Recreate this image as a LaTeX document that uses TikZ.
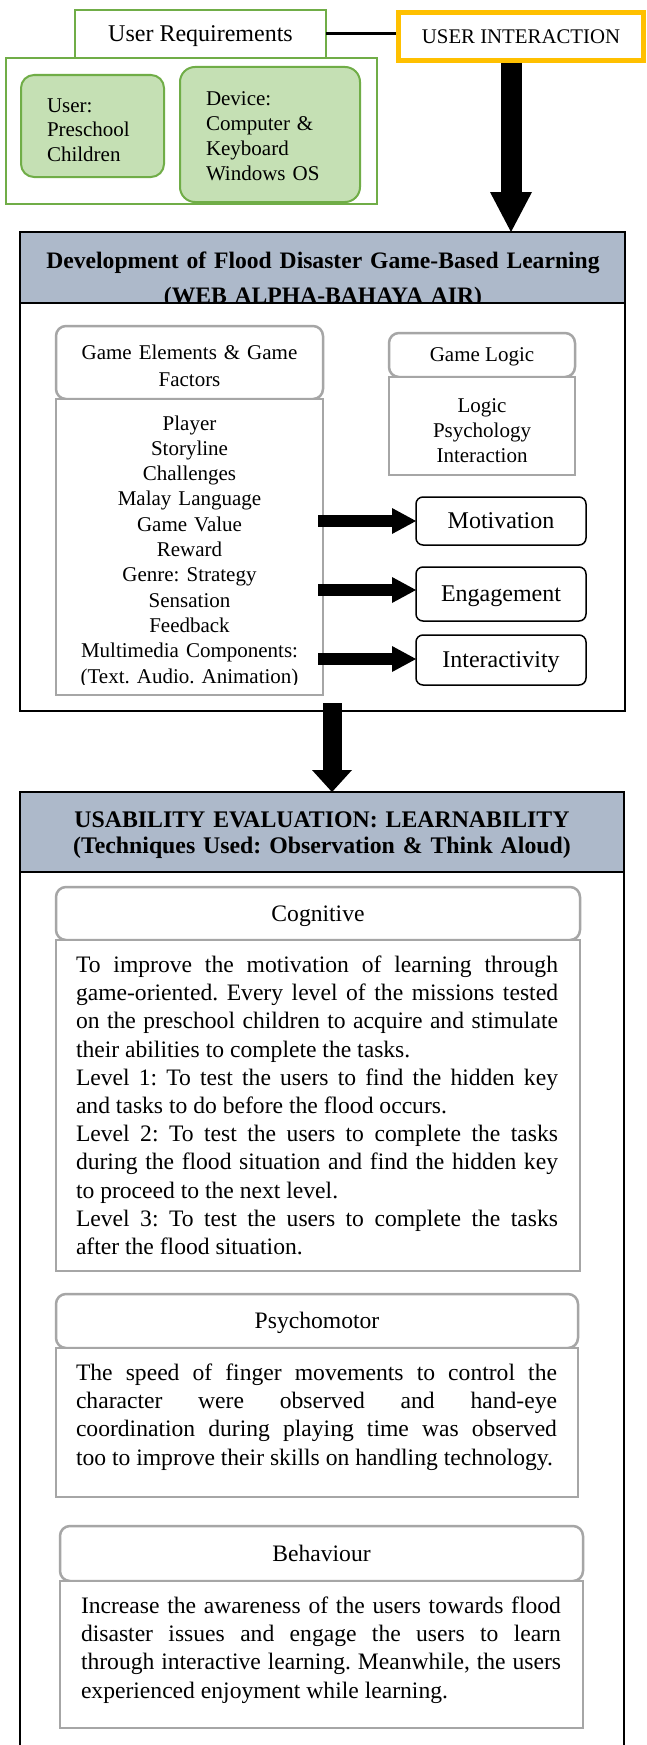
\documentclass[tikz,border=0pt]{standalone}
\usepackage{fontspec}
\setmainfont{Liberation Serif}
\usetikzlibrary{arrows.meta,calc}
\frenchspacing

\definecolor{leafline}{HTML}{70AD47}
\definecolor{leaffill}{HTML}{C5E0B4}
\definecolor{amber}{HTML}{FFC000}
\definecolor{slateband}{HTML}{ADB9CA}
\definecolor{greyline}{HTML}{A6A6A6}

\newcommand{\pxfont}[2]{\fontsize{#1}{#2}\selectfont}

\begin{document}
\begin{tikzpicture}[x=1pt,y=-1pt,
  every node/.style={inner sep=0pt,outer sep=0pt},
  % a box given by its left, top, right and bottom edges
  span/.style args={#1:#2:#3:#4}{at={($(#1,#2)!0.5!(#3,#4)$)},minimum width={#3-#1},minimum height={#4-#2}},
  % centre a single line on its capitals
  capmid/.style={text height=#1,text depth=0pt},
  greenframe/.style={draw=leafline,line width=2pt,fill=white},
  greenpill/.style={draw=leafline,line width=2pt,fill=leaffill,rounded corners=13pt},
  amberframe/.style={draw=amber,line width=5pt,fill=white},
  blackframe/.style={draw=black,line width=2pt,fill=white},
  bandbox/.style={draw=black,line width=2pt,fill=slateband},
  greyhead/.style={draw=greyline,line width=2.5pt,fill=white,rounded corners=10pt},
  greybody/.style={draw=greyline,line width=2.5pt,fill=white},
  outcome/.style={draw=black,line width=1.5pt,fill=white,rounded corners=7pt,font={\pxfont{24}{28}},capmid=15.8pt},
  bigarrow/.style={line width=21pt,-{Triangle[width=42pt,length=40pt,line width=0pt]}},
  midarrow/.style={line width=19pt,-{Triangle[width=40pt,length=22pt,line width=0pt]}},
  sidearrow/.style={line width=12pt,-{Triangle[width=26pt,length=24pt,line width=0pt]}},
  headtext/.style={font={\pxfont{23.6}{28}},capmid=15.6pt},
  smalltext/.style={font={\pxfont{21}{25}}},
  bodytext/.style={font={\pxfont{23.6}{28.2}\hyphenpenalty10000 \tolerance10000 },align=justify,anchor=base west},
]
\useasboundingbox (0,0) rectangle (646,1745);
\fill[white] (0,0) rectangle (646,1745);

% ---------- user requirements ----------
\node[greenframe, span=6:58:377:204] (reqgroup) {};
\node[greenframe, span=75:10:326:58, font={\pxfont{24}{28}}, capmid=15.8pt] (ureq) {User Requirements};
\node[greenpill, span=21:75:164:177] (uuser) {};
\node[anchor=base west, text width=110pt, align=left, font={\pxfont{21}{24.5}}] (uusertxt) at (47,112.5)
  {User:\\Preschool\\Children};
\node[greenpill, rounded corners=15pt, span=180:67:360:202] (udevice) {};
\node[anchor=base west, text width=140pt, align=left, font={\pxfont{21}{25}}] (udevicetxt) at (206,105)
  {Device:\\Computer \&\\Keyboard\\Windows OS};

% ---------- user interaction ----------
\node[amberframe, span=398.5:12.5:643.5:60.5, font={\pxfont{20.8}{25}}, capmid=13.7pt] (uinter) {USER INTERACTION};
\draw[line width=3pt] (ureq.east) -- ($(ureq.east -| uinter.west)+(-2.5,0)$);

% ---------- development block ----------
\node[blackframe, span=20:232:625:711] (dev) {};
\node[bandbox, span=20:232:625:303] (devhead) {};
\begin{scope}
  \clip (devhead.north west) rectangle ([yshift=1pt]devhead.south east);
  \node[anchor=base, text width=600pt, align=center, font={\bfseries\pxfont{23.6}{35}}] (devtitle) at (323,268)
    {Development of Flood Disaster Game-Based Learning\\(WEB ALPHA-BAHAYA AIR)};
\end{scope}

\node[greyhead, span=56:326:323:399] (gehead) {};
\node[anchor=base, text width=260pt, align=center, font={\pxfont{21}{27}}] (geheadtxt) at (189.5,359.5)
  {Game Elements \& Game\\Factors};
\node[greybody, span=56:399:323:695] (gebody) {};
\begin{scope}
  \clip (56,399) rectangle (323,684);
  \node[anchor=base, text width=260pt, align=center, font={\pxfont{21}{25.3}}] (gelist) at (189.5,430)
    {Player\\Storyline\\Challenges\\Malay Language\\Game Value\\Reward\\Genre: Strategy\\Sensation\\Feedback\\Multimedia Components:\\(Text. Audio. Animation)};
\end{scope}

\node[greyhead, span=389:333:575:377] (glhead) {};
\node[anchor=base, smalltext] (glheadtxt) at (482,361) {Game Logic};
\node[greybody, span=389:377:575:475] (glbody) {};
\node[anchor=base, text width=180pt, align=center, smalltext] (gllist) at (482,412)
  {Logic\\Psychology\\Interaction};

\node[outcome, span=416:497:586:545] (motiv) {Motivation};
\node[outcome, span=416:567:586:621] (engage) {Engagement};
\node[outcome, span=416:635:586:685] (interact) {Interactivity};

\draw[sidearrow] ($(gebody.east |- motiv.west)+(-5,0)$) -- (motiv.west);
\draw[sidearrow] ($(gebody.east |- engage.west)+(-5,-4)$) -- ($(engage.west)+(0,-4)$);
\draw[sidearrow] ($(gebody.east |- interact.west)+(-5,-1)$) -- ($(interact.west)+(0,-1)$);

% ---------- usability evaluation ----------
\node[span=20:792:624:1748] (usab) {};
\draw[line width=2pt] (usab.south west) -- (usab.north west) -- (usab.north east) -- (usab.south east);
\node[bandbox, span=20:792:624:872] (usabhead) {};
\node[anchor=base, text width=600pt, align=center, font={\bfseries\pxfont{23.8}{26}}] (usabtitle) at (322,827)
  {USABILITY EVALUATION: LEARNABILITY\\(Techniques Used: Observation \& Think Aloud)};

\node[greyhead, headtext, span=56:887:580:940] (coghead) {Cognitive};
\node[greybody, span=56:940:580:1271] (cogbody) {};
\node[bodytext, text width=482pt] (cogtext) at (76,972.5)
  {To improve the motivation of learning through\linebreak
   game-oriented. Every level of the missions tested\linebreak
   on the preschool children to acquire and stimulate\linebreak
   their abilities to complete the tasks.\\
   Level 1: To test the users to find the hidden key\linebreak
   and tasks to do before the flood occurs.\\
   Level 2: To test the users to complete the tasks\linebreak
   during the flood situation and find the hidden key\linebreak
   to proceed to the next level.\\
   Level 3: To test the users to complete the tasks\linebreak
   after the flood situation.};

\node[greyhead, headtext, span=56:1294:578:1348] (psyhead) {Psychomotor};
\node[greybody, span=56:1348:578:1497] (psybody) {};
\node[bodytext, text width=481pt] (psytext) at (76,1380.5)
  {The speed of finger movements to control the\linebreak
   character were observed and hand-eye\linebreak
   coordination during playing time was observed\linebreak
   too to improve their skills on handling technology.};

\node[greyhead, headtext, span=60:1526:583:1581] (behhead) {Behaviour};
\node[greybody, span=60:1581:583:1728] (behbody) {};
\node[bodytext, text width=480pt] (behtext) at (81,1613.5)
  {Increase the awareness of the users towards flood\linebreak
   disaster issues and engage the users to learn\linebreak
   through interactive learning. Meanwhile, the users\linebreak
   experienced enjoyment while learning.};

% ---------- flow arrows ----------
\coordinate (a1) at (511,0);
\draw[bigarrow] ($(a1 |- uinter.south)+(0,2.5)$) -- (a1 |- devhead.north);
\coordinate (a2) at (332,0);
\draw[midarrow] ($(a2 |- dev.south)+(0,-8)$) -- (a2 |- usab.north);
\end{tikzpicture}
\end{document}
